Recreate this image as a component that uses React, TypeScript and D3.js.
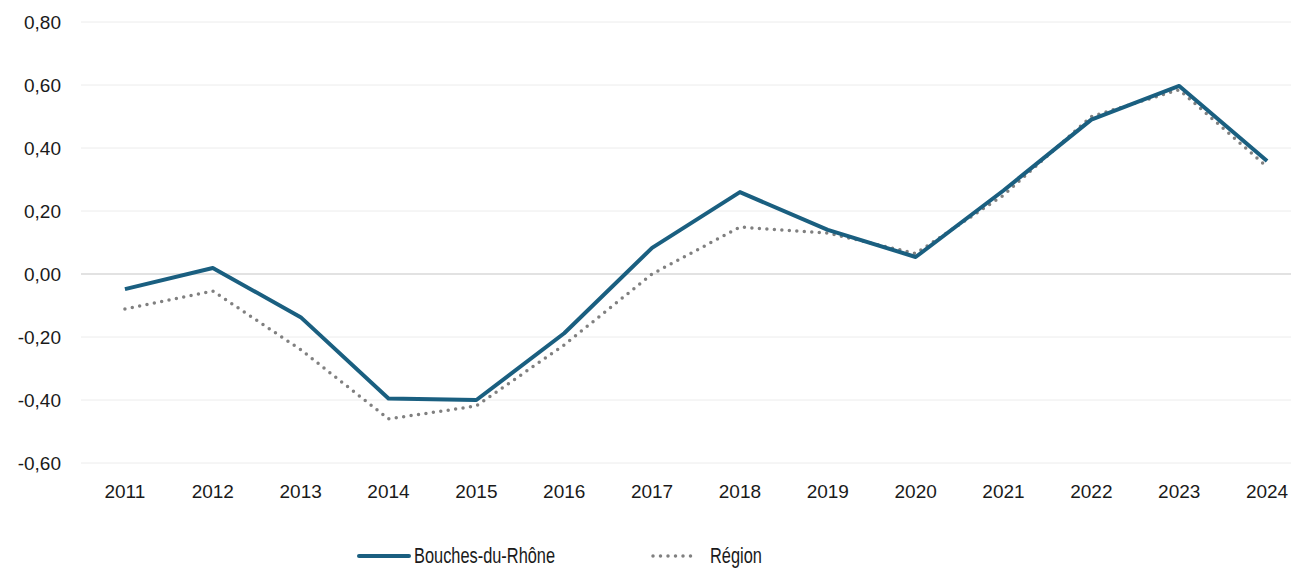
import React from "react";
import * as d3 from "d3";

const years = ["2011", "2012", "2013", "2014", "2015", "2016", "2017", "2018", "2019", "2020", "2021", "2022", "2023", "2024"];
const bouches = [-0.048, 0.019, -0.137, -0.395, -0.4, -0.188, 0.083, 0.26, 0.14, 0.054, 0.265, 0.49, 0.597, 0.359];
const region = [-0.111, -0.054, -0.24, -0.46, -0.419, -0.225, 0.0, 0.149, 0.13, 0.065, 0.25, 0.5, 0.585, 0.34];
const yTicks = [-0.6, -0.4, -0.2, 0, 0.2, 0.4, 0.6, 0.8];

const W = 1291;
const H = 568;
const blue = "#1a5f80";
const grey = "#808080";

export default function App() {
  const svgRef = React.useRef<SVGSVGElement>(null);

  React.useEffect(() => {
    const svg = d3.select(svgRef.current);
    svg.selectAll("*").remove();

    const x = d3.scalePoint<string>().domain(years).range([81, 1311]).padding(0.5);
    const y = d3.scaleLinear().domain([-0.6, 0.8]).range([463, 22]);
    const fmt = (v: number) => d3.format(".2f")(v).replace(".", ",").replace("−", "-");

    // grid
    svg
      .append("g")
      .selectAll("line")
      .data(yTicks)
      .join("line")
      .attr("x1", 81)
      .attr("x2", 1311)
      .attr("y1", (d) => y(d))
      .attr("y2", (d) => y(d))
      .attr("stroke", (d) => (d === 0 ? "#d9d9d9" : "#ececec"))
      .attr("stroke-width", (d) => (d === 0 ? 1.5 : 1));

    svg
      .append("g")
      .selectAll("text")
      .data(yTicks)
      .join("text")
      .attr("x", 61)
      .attr("y", (d) => y(d))
      .attr("dy", "0.35em")
      .attr("text-anchor", "end")
      .attr("font-family", "'Liberation Sans', Arial, sans-serif")
      .attr("font-size", 19)
      .attr("fill", "#1a1a1a")
      .text((d) => fmt(d));

    svg
      .append("g")
      .selectAll("text")
      .data(years)
      .join("text")
      .attr("x", (d) => x(d)!)
      .attr("y", 491)
      .attr("dy", "0.35em")
      .attr("text-anchor", "middle")
      .attr("font-family", "'Liberation Sans', Arial, sans-serif")
      .attr("font-size", 19)
      .attr("fill", "#1a1a1a")
      .text((d) => d);

    const line = d3
      .line<number>()
      .x((_, i) => x(years[i])!)
      .y((d) => y(d));

    svg
      .append("path")
      .datum(region)
      .attr("d", line)
      .attr("fill", "none")
      .attr("stroke", grey)
      .attr("stroke-width", 3.5)
      .attr("stroke-linecap", "round")
      .attr("stroke-dasharray", "0 7.5");

    svg
      .append("path")
      .datum(bouches)
      .attr("d", line)
      .attr("fill", "none")
      .attr("stroke", blue)
      .attr("stroke-width", 4)
      .attr("stroke-linejoin", "round");

    // legend (condensed look via horizontal scale)
    const ly = 556;
    const lg = svg.append("g").attr("font-family", "'Liberation Sans', Arial, sans-serif").attr("font-size", 22).attr("fill", "#1a1a1a");
    lg.append("line").attr("x1", 359).attr("x2", 409).attr("y1", ly).attr("y2", ly).attr("stroke", blue).attr("stroke-width", 4).attr("stroke-linecap", "round");
    lg.append("text").attr("transform", `translate(414,${ly}) scale(0.745,1)`).attr("dy", "0.33em").text("Bouches-du-Rhône");
    lg.append("line").attr("x1", 653).attr("x2", 698).attr("y1", ly).attr("y2", ly).attr("stroke", grey).attr("stroke-width", 3.5).attr("stroke-linecap", "round").attr("stroke-dasharray", "0 7.5");
    lg.append("text").attr("transform", `translate(710,${ly}) scale(0.745,1)`).attr("dy", "0.33em").text("Région");
  }, []);

  return (
    <svg
      ref={svgRef}
      width={W}
      height={H}
      style={{ position: "absolute", left: 0, top: 0, background: "#fff", display: "block" }}
    />
  );
}
